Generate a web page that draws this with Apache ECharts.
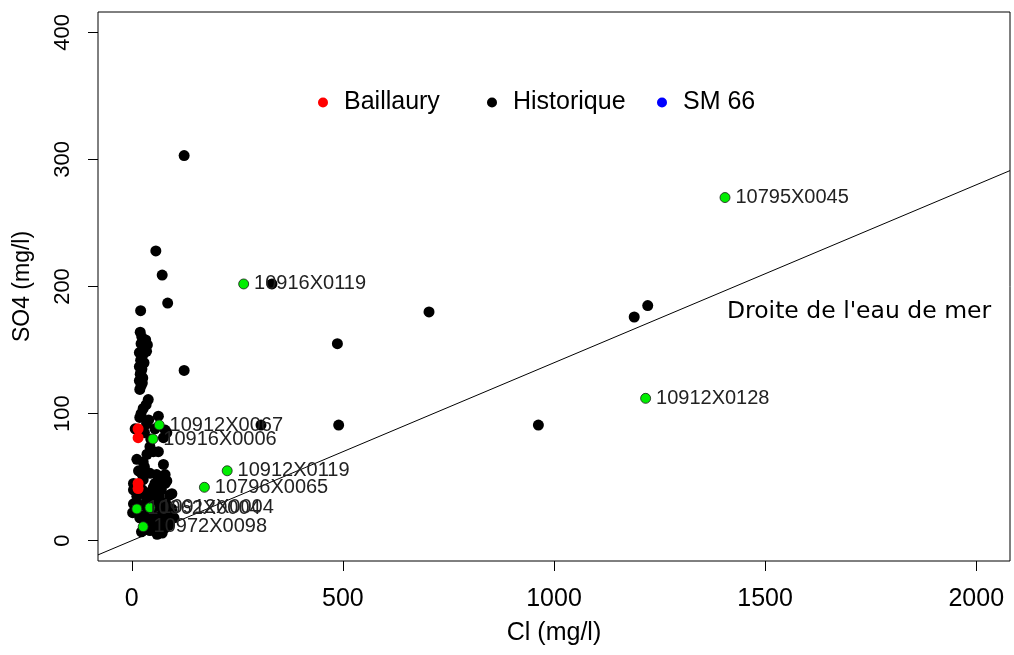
<!DOCTYPE html>
<html>
<head>
<meta charset="utf-8">
<script src="https://cdn.jsdelivr.net/npm/echarts@6/dist/echarts.min.js"></script>
<style>
html,body{margin:0;padding:0;background:#fff;}
#chart{width:1014px;height:655px;}
</style>
</head>
<body>
<div id="chart"></div>
<script>
// ---- data ----
const xTicks = [0, 500, 1000, 1500, 2000];
const yTicks = [0, 100, 200, 300, 400];

const baillauryCl  = [15, 15, 15, 15];
const baillaurySO4 = [88, 81, 45, 41];

const historiqueCl  = [124, 57, 72, 85, 21, 124, 332, 704, 487, 490, 963, 306, 1190, 1222,
  20, 24, 33, 37, 22, 28, 35, 18, 26, 21, 29, 18, 24, 20, 26, 18, 22, 19, 25, 22,
  39, 34, 27, 22, 19, 63, 35, 8, 79, 83, 75, 43, 63, 51, 12, 27, 75, 23, 59, 79,
  43, 27, 67, 83, 4, 79, 51, 4, 90, 95, 35, 12, 59, 4, 59, 75, 2, 19, 63, 67,
  47, 67, 79, 43, 23, 30, 40, 50, 55, 70, 85, 90, 100, 80, 15, 10, 25, 32, 45, 65,
  70, 95, 88, 60, 72, 35, 40, 28, 48, 55, 16, 30, 36, 45, 30, 40, 55];
const historiqueSO4 = [303, 228, 209, 187, 181, 134, 202, 180, 155, 91, 91, 91, 176, 185,
  164, 160, 158, 154, 155, 151, 149, 148, 146, 142, 140, 137, 135, 131, 128, 126, 122, 119, 124, 133,
  111, 107, 104, 100, 97, 98, 92, 88, 87, 85, 81, 74, 70, 70, 64, 62, 60, 53, 52, 52,
  53, 48, 50, 47, 45, 45, 42, 40, 36, 37, 33, 35, 32, 29, 27, 24, 22, 18, 16, 16,
  10, 10, 10, 8, 7, 20, 25, 20, 14, 20, 20, 15, 18, 30, 28, 30, 40, 38, 30, 35,
  40, 25, 12, 5, 6, 12, 15, 28, 36, 45, 55, 58, 68, 80, 85, 95, 88];

const sm66Cl  = [];
const sm66SO4 = [];

const labelledNames = ['10795X0045', '10916X0119', '10912X0128', '10912X0067', '10916X0006',
  '10912X0119', '10796X0065', '10962X0004', '10912X0004', '10972X0098'];
const labelledCl  = [1405, 265, 1217, 65, 50, 226, 172, 12, 43, 27];
const labelledSO4 = [270, 202, 112, 91, 80, 55, 42, 25, 26, 11];

// seawater Cl/SO4 line end points (ratio 0.14)
const seaLineCl  = [-80, 2080];
const seaLineSO4 = [-11.2, 291.2];
const seaLineText = "Droite de l'eau de mer";

// ---- chart ----
const pairs = (a, b) => a.map((v, i) => [v, b[i]]);
const FONT = 'Liberation Sans, Arial, sans-serif';

const chart = echarts.init(document.getElementById('chart'), null, {renderer: 'canvas'});

function legendAt(name, left) {
  return {
    data: [name], left: left, top: 85, orient: 'horizontal',
    icon: 'circle', itemWidth: 10, itemHeight: 10,
    textStyle: {fontFamily: FONT, fontSize: 25, color: '#000', padding: [0, 0, 0, 11]},
    selectedMode: false
  };
}

chart.setOption({
  animation: false,
  backgroundColor: '#fff',
  grid: {left: 98, right: 4, top: 12, bottom: 94, show: true, borderColor: '#000', borderWidth: 1, backgroundColor: 'transparent'},
  legend: [legendAt('Baillaury', 313), legendAt('Historique', 482), legendAt('SM 66', 652)],
  xAxis: {
    type: 'value', min: -80, max: 2080,
    name: 'Cl (mg/l)', nameLocation: 'middle', nameGap: 60,
    nameTextStyle: {fontFamily: FONT, fontSize: 25, color: '#000'},
    axisLine: {show: false, onZero: false},
    axisTick: {show: true, length: 10, lineStyle: {color: '#000'}, customValues: xTicks},
    axisLabel: {fontFamily: FONT, fontSize: 25, color: '#000', margin: 26, customValues: xTicks,
                formatter: v => String(v)},
    splitLine: {show: false}
  },
  yAxis: {
    type: 'value', min: -16, max: 416,
    name: 'SO4 (mg/l)', nameLocation: 'middle', nameGap: 64,
    nameTextStyle: {fontFamily: FONT, fontSize: 23, color: '#000'},
    axisLine: {show: false, onZero: false},
    axisTick: {show: true, length: 10, lineStyle: {color: '#000'}, customValues: yTicks},
    axisLabel: {fontFamily: FONT, fontSize: 22, color: '#000', margin: 24, rotate: 90, customValues: yTicks,
                formatter: v => String(v)},
    splitLine: {show: false}
  },
  graphic: [{
    type: 'text', left: 727, top: 300,
    style: {text: seaLineText, font: '23.5px "DejaVu Sans"', fill: '#000'}
  }],
  series: [
    {
      name: 'Droite', type: 'line', data: pairs(seaLineCl, seaLineSO4), symbol: 'none',
      lineStyle: {color: '#000', width: 1}, z: 1, silent: true
    },
    {
      name: 'Historique', type: 'scatter', data: pairs(historiqueCl, historiqueSO4),
      symbolSize: 11, itemStyle: {color: '#000000', opacity: 1}, z: 3
    },
    {
      name: 'Baillaury', type: 'scatter', data: pairs(baillauryCl, baillaurySO4),
      symbolSize: 11, itemStyle: {color: '#ff0000', opacity: 1}, z: 4
    },
    {
      name: 'SM 66', type: 'scatter', data: pairs(sm66Cl, sm66SO4),
      symbolSize: 11, itemStyle: {color: '#0000ff', opacity: 1}, z: 4
    },
    {
      name: 'labelled', type: 'scatter',
      data: labelledCl.map((v, i) => ({name: labelledNames[i], value: [v, labelledSO4[i]]})),
      symbolSize: 10,
      itemStyle: {color: '#00ee00', borderColor: '#1a1a1a', borderWidth: 0.8, opacity: 1},
      label: {show: true, position: 'right', distance: 5, formatter: '{b}',
              fontFamily: FONT, fontSize: 20, color: '#222'},
      z: 5
    }
  ]
});
</script>
</body>
</html>
